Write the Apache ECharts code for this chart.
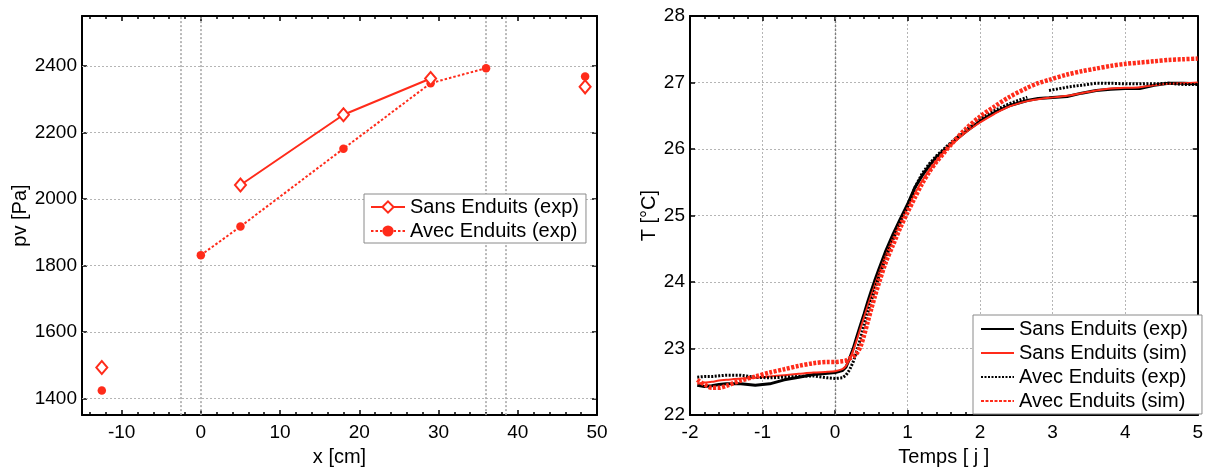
<!DOCTYPE html>
<html>
<head>
<meta charset="utf-8">
<script src="https://cdn.jsdelivr.net/npm/echarts@6/dist/echarts.min.js"></script>
<style>
  html, body { margin: 0; padding: 0; background: #fff; }
  #chart { width: 1206px; height: 472px; }
</style>
</head>
<body>
<div id="chart"></div>
<script>
// Vapour pressure across the wall (left panel)
const sansX = [-12.5, 5, 18, 29, 48.5];
const sansPv = [1493, 2042, 2253, 2362, 2337];
const avecX = [-12.5, 0, 5, 18, 29, 36, 48.5];
const avecPv = [1424, 1831, 1917, 2151, 2348, 2393, 2368];
const wallLimitsCm = [-2.5, 0, 36, 38.5];
const xTicksCm = [-10, 0, 10, 20, 30, 40, 50];
const xMinorTicksCm = [-14, -12, -8, -6, -4, -2, 2, 4, 6, 8, 12, 14, 16, 18, 22, 24, 26, 28, 32, 34, 36, 38, 42, 44, 46, 48];
const pvTicks = [1400, 1600, 1800, 2000, 2200, 2400];

// Temperature response (right panel)
const timeDays = [-1.9, -1.8, -1.7, -1.6, -1.5, -1.3, -1.1, -0.9, -0.7, -0.5, -0.3, -0.1,
  0, 0.1, 0.15, 0.2, 0.25, 0.3, 0.35, 0.4, 0.45, 0.5, 0.55, 0.6, 0.7, 0.8, 0.9, 1.0,
  1.1, 1.2, 1.3, 1.4, 1.5, 1.6, 1.8, 2.0, 2.2, 2.4, 2.65, 2.8, 2.95, 3.2, 3.4, 3.6,
  3.8, 4.0, 4.2, 4.4, 4.6, 4.8, 5.0];
const tSansExp = [22.45, 22.43, 22.44, 22.46, 22.47, 22.47, 22.45, 22.47, 22.53, 22.57, 22.61, 22.63,
  22.64, 22.67, 22.72, 22.85, 23.0, 23.18, 23.35, 23.52, 23.7, 23.87, 24.03, 24.18, 24.47, 24.72, 24.95, 25.17,
  25.42, 25.6, 25.75, 25.88, 25.98, 26.08, 26.26, 26.42, 26.55, 26.65, 26.73, 26.76, 26.77, 26.79, 26.84, 26.88,
  26.9, 26.91, 26.91, 26.96, 26.99, 26.99, 26.98];
const tSansSim = [22.47, 22.49, 22.5, 22.52, 22.53, 22.55, 22.56, 22.58, 22.6, 22.62, 22.64, 22.65,
  22.66, 22.69, 22.74, 22.84, 22.97, 23.13, 23.3, 23.47, 23.64, 23.8, 23.96, 24.11, 24.4, 24.66, 24.9, 25.12,
  25.33, 25.52, 25.68, 25.82, 25.95, 26.06, 26.25, 26.4, 26.53, 26.64, 26.72, 26.75, 26.77, 26.8, 26.84, 26.88,
  26.91, 26.92, 26.93, 26.96, 26.98, 26.99, 27.0];
const tAvecExp = [22.57, 22.58, 22.58, 22.59, 22.6, 22.6, 22.57, 22.56, 22.57, 22.58, 22.59, 22.56,
  22.55, 22.56, 22.6, 22.68, 22.8, 22.97, 23.15, 23.35, 23.54, 23.72, 23.9, 24.06, 24.37, 24.64, 24.9, 25.13,
  25.42, 25.63, 25.78, 25.9, 26.0, 26.1, 26.28, 26.45, 26.58, 26.68, 26.78, null, 26.88, 26.93, 26.96, 26.99,
  26.99, 26.98, 26.98, 26.98, 26.99, 26.97, 26.97];
const tAvecSim = [22.53, 22.46, 22.41, 22.41, 22.44, 22.52, 22.58, 22.64, 22.69, 22.74, 22.78, 22.8,
  22.8, 22.81, 22.82, 22.85, 22.88, 22.93, 23.03, 23.2, 23.4, 23.6, 23.79, 23.97, 24.3, 24.56, 24.82, 25.05,
  25.27, 25.48, 25.66, 25.81, 25.94, 26.07, 26.3, 26.49, 26.64, 26.78, 26.92, 26.99, 27.04, 27.12, 27.17, 27.21,
  27.25, 27.28, 27.3, 27.32, 27.34, 27.35, 27.36];

const RED = '#ff2b1a';
const FONT = '"Liberation Sans", Arial, Helvetica, sans-serif';

// Outdoor and indoor readings (first and last) are not joined to the wall profile
function profileData(xs, ys) {
  const pts = xs.map((x, i) => [x, ys[i]]);
  const n = pts.length;
  return [pts[0], [xs[0], '-'], ...pts.slice(1, n - 1), [xs[n - 1], '-'], pts[n - 1]];
}
function timeSeries(values) {
  return timeDays.map((t, i) => [t, values[i] === null ? '-' : values[i]]);
}
const plain = (v) => String(v);

const frameLine = { show: true, onZero: false, lineStyle: { color: '#000', width: 2 } };
const tickStyle = { color: '#000', width: 1.5 };
const dotGrid = { show: true, lineStyle: { color: '#b5b5b5', width: 1, type: [2, 2] } };
const labelStyle = { color: '#000', fontSize: 19, fontFamily: FONT, formatter: plain };
const nameStyle = { color: '#000', fontSize: 20, fontFamily: FONT };

const xLeftBase = { gridIndex: 0, type: 'value', min: -15, max: 50, splitLine: { show: false } };
const yLeftBase = { gridIndex: 0, type: 'value', min: 1350, max: 2550, splitLine: { show: false } };
const xRightBase = { gridIndex: 1, type: 'value', min: -2, max: 5, interval: 1 };
const yRightBase = { gridIndex: 1, type: 'value', min: 22, max: 28, interval: 1 };

const chart = echarts.init(document.getElementById('chart'), null, { renderer: 'canvas' });

chart.setOption({
  animation: false,
  backgroundColor: '#fff',
  textStyle: { fontFamily: FONT, color: '#000' },
  grid: [
    { left: 82, top: 16, width: 515, height: 407 },
    { left: 690, top: 16, width: 515, height: 407 }
  ],
  xAxis: [
    Object.assign({}, xLeftBase, {
      position: 'bottom',
      axisLine: frameLine,
      axisTick: { show: true, inside: true, length: 5, customValues: xTicksCm, lineStyle: tickStyle },
      axisLabel: Object.assign({ customValues: xTicksCm, margin: 8 }, labelStyle),
      name: 'x [cm]', nameLocation: 'middle', nameGap: 27, nameTextStyle: nameStyle
    }),
    Object.assign({}, xLeftBase, {
      position: 'bottom',
      axisLine: { show: false },
      axisTick: { show: true, inside: true, length: 3, customValues: xMinorTicksCm, lineStyle: tickStyle },
      axisLabel: { show: false }
    }),
    Object.assign({}, xLeftBase, {
      position: 'top',
      axisLine: frameLine,
      axisTick: { show: true, inside: true, length: 5, customValues: xTicksCm, lineStyle: tickStyle },
      axisLabel: { show: false }
    }),
    Object.assign({}, xLeftBase, {
      position: 'top',
      axisLine: { show: false },
      axisTick: { show: true, inside: true, length: 3, customValues: xMinorTicksCm, lineStyle: tickStyle },
      axisLabel: { show: false }
    }),
    Object.assign({}, xRightBase, {
      position: 'bottom',
      axisLine: frameLine,
      axisTick: { show: true, inside: true, length: 5, lineStyle: tickStyle },
      minorTick: { show: true, splitNumber: 5, length: 3, lineStyle: tickStyle },
      axisLabel: Object.assign({ margin: 8 }, labelStyle),
      splitLine: dotGrid,
      name: 'Temps [ j ]', nameLocation: 'middle', nameGap: 27, nameTextStyle: nameStyle
    }),
    Object.assign({}, xRightBase, {
      position: 'top',
      axisLine: frameLine,
      axisTick: { show: true, inside: true, length: 5, lineStyle: tickStyle },
      minorTick: { show: true, splitNumber: 5, length: 3, lineStyle: tickStyle },
      axisLabel: { show: false },
      splitLine: { show: false }
    })
  ],
  yAxis: [
    Object.assign({}, yLeftBase, {
      position: 'left',
      axisLine: frameLine,
      axisTick: { show: true, inside: true, length: 5, customValues: pvTicks, lineStyle: tickStyle },
      axisLabel: Object.assign({ customValues: pvTicks, margin: 5 }, labelStyle),
      name: 'pv [Pa]', nameLocation: 'middle', nameGap: 51, nameRotate: 90, nameTextStyle: nameStyle
    }),
    Object.assign({}, yLeftBase, {
      position: 'right',
      axisLine: frameLine,
      axisTick: { show: true, inside: true, length: 5, customValues: pvTicks, lineStyle: tickStyle },
      axisLabel: { show: false }
    }),
    Object.assign({}, yRightBase, {
      position: 'left',
      axisLine: frameLine,
      axisTick: { show: true, inside: true, length: 5, lineStyle: tickStyle },
      axisLabel: Object.assign({ margin: 5 }, labelStyle),
      splitLine: dotGrid,
      name: 'T [°C]', nameLocation: 'middle', nameGap: 30, nameRotate: 90, nameTextStyle: nameStyle
    }),
    Object.assign({}, yRightBase, {
      position: 'right',
      axisLine: frameLine,
      axisTick: { show: true, inside: true, length: 5, lineStyle: tickStyle },
      axisLabel: { show: false },
      splitLine: { show: false }
    })
  ],
  legend: [
    {
      data: ['Sans Enduits (exp)', 'Avec Enduits (exp)'],
      orient: 'vertical', left: 364, top: 194,
      padding: [3, 7, 2, 6], itemWidth: 34, itemHeight: 14, itemGap: 4,
      backgroundColor: '#fff', borderColor: '#8a8a8a', borderWidth: 1, borderRadius: 0,
      selectedMode: false,
      textStyle: { color: '#000', fontSize: 20, lineHeight: 20, fontFamily: FONT }
    },
    {
      data: ['Sans Enduits (exp) ', 'Sans Enduits (sim)', 'Avec Enduits (exp) ', 'Avec Enduits (sim)'],
      formatter: (name) => name.trim(),
      orient: 'vertical', left: 973, top: 315,
      padding: [4, 14, 3, 7], itemWidth: 33, itemHeight: 14, itemGap: 4,
      backgroundColor: '#fff', borderColor: '#8a8a8a', borderWidth: 1, borderRadius: 0,
      selectedMode: false,
      // line samples only, no marker
      itemStyle: { opacity: 0, borderWidth: 0 },
      textStyle: { color: '#000', fontSize: 20, lineHeight: 20, fontFamily: FONT }
    }
  ],
  series: [
    {
      name: 'Sans Enduits (exp)', type: 'line', xAxisIndex: 0, yAxisIndex: 0,
      data: profileData(sansX, sansPv),
      symbol: 'emptyDiamond', symbolSize: [11, 13],
      color: RED,
      lineStyle: { color: RED, width: 2 },
      itemStyle: { color: RED, borderColor: RED, borderWidth: 2 },
      z: 3,
      markLine: {
        silent: true, symbol: 'none', z: 1, animation: false,
        label: { show: false },
        data: [
          ...pvTicks.map(v => ({ yAxis: v, lineStyle: { color: '#b5b5b5', width: 1, type: [2, 2] } })),
          ...wallLimitsCm.map(v => ({ xAxis: v, lineStyle: { color: '#a8a8a8', width: 1.6, type: [2, 2] } }))
        ]
      }
    },
    {
      name: 'Avec Enduits (exp)', type: 'line', xAxisIndex: 0, yAxisIndex: 0,
      data: profileData(avecX, avecPv),
      symbol: 'circle', symbolSize: 8.5,
      color: RED,
      lineStyle: { color: RED, width: 2, type: [2.5, 2] },
      itemStyle: { color: RED, borderWidth: 0 },
      z: 2
    },
    {
      name: 'Sans Enduits (exp) ', type: 'line', xAxisIndex: 4, yAxisIndex: 2,
      data: timeSeries(tSansExp), symbol: 'none', color: '#000',
      lineStyle: { color: '#000', width: 3 },
      markLine: {
        silent: true, symbol: 'none', z: 1, animation: false,
        label: { show: false },
        data: [{ xAxis: 0, lineStyle: { color: '#7a7a7a', width: 1.4, type: [2, 2] } }]
      }
    },
    {
      name: 'Sans Enduits (sim)', type: 'line', xAxisIndex: 4, yAxisIndex: 2,
      data: timeSeries(tSansSim), symbol: 'none', smooth: 0.3, color: RED,
      lineStyle: { color: RED, width: 2 }
    },
    {
      name: 'Avec Enduits (exp) ', type: 'line', xAxisIndex: 4, yAxisIndex: 2,
      data: timeSeries(tAvecExp), symbol: 'none', color: '#000',
      lineStyle: { color: '#000', width: 3, type: [2, 1.5] }
    },
    {
      name: 'Avec Enduits (sim)', type: 'line', xAxisIndex: 4, yAxisIndex: 2,
      data: timeSeries(tAvecSim), symbol: 'none', smooth: 0.3, color: RED,
      lineStyle: { color: RED, width: 4.5, type: [3, 1.5] }
    }
  ]
});
</script>
</body>
</html>
